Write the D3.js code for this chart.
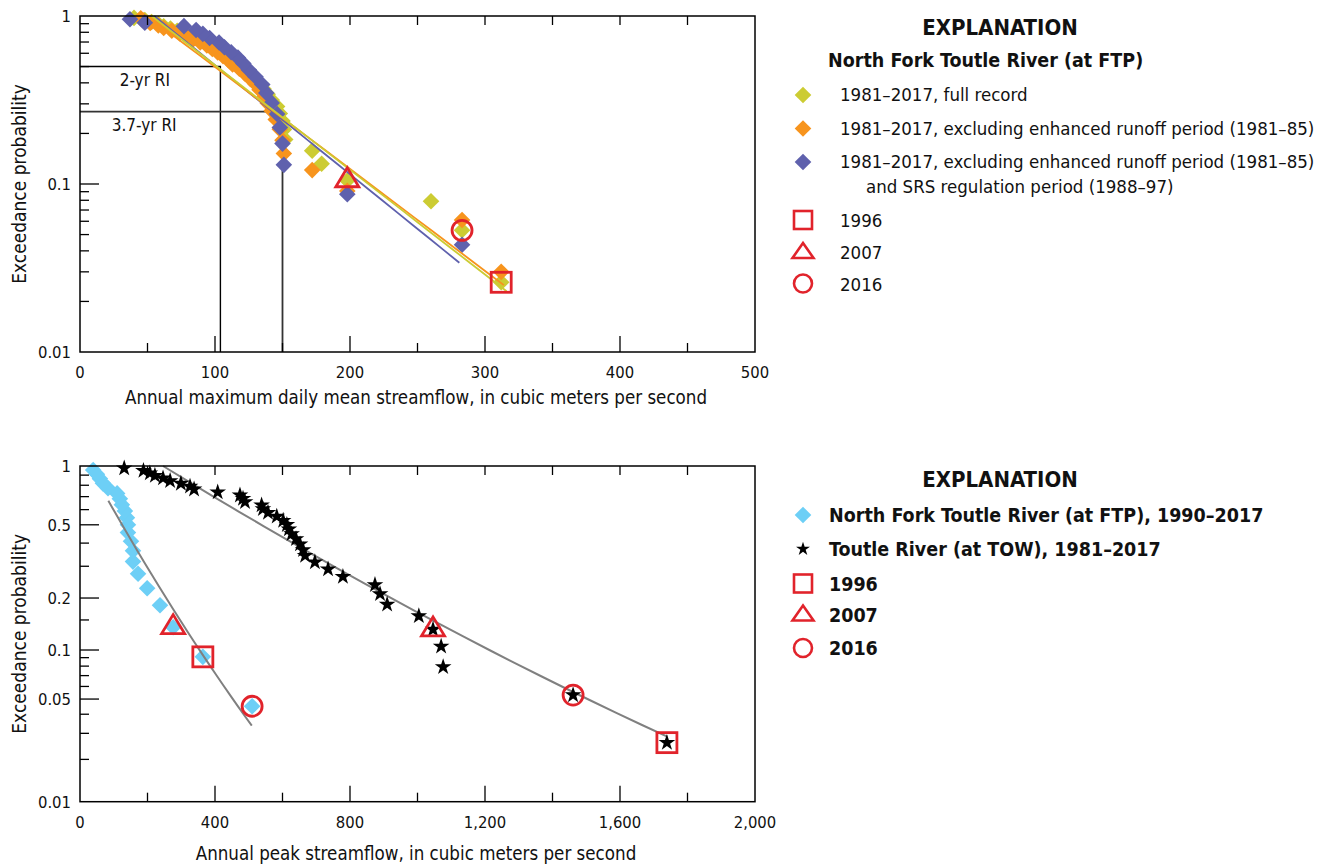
<!DOCTYPE html>
<html>
<head>
<meta charset="utf-8">
<script src="https://cdn.jsdelivr.net/npm/d3@7"></script>
<style>
body { margin: 0; background: #fff; }
svg text { font-family: "Liberation Sans Narrow", "DejaVu Sans Condensed", "Roboto", sans-serif; fill: #111; }
</style>
</head>
<body>
<svg id="chart" width="1320" height="867"></svg>
<script>
// ---- top panel: annual maximum daily mean streamflow [m3/s, exceedance probability]
var fullRecord = [[312,0.026],[283,0.053],[260,0.079],[198,0.105],[179,0.132],[172,0.158],[152,0.184],[151,0.211],[150,0.237],[148,0.263],[146,0.289],[142,0.316],[139,0.342],[136,0.368],[133,0.395],[130,0.421],[127,0.447],[123,0.474],[120,0.5],[116,0.526],[112,0.553],[109,0.579],[105,0.605],[102,0.632],[98,0.658],[94,0.684],[90,0.711],[86,0.737],[82,0.763],[77,0.789],[72,0.816],[67,0.842],[62,0.868],[58,0.895],[53,0.921],[48,0.947],[40,0.974]];
var noEnhanced = [[312,0.030],[283,0.061],[198,0.091],[172,0.121],[151,0.152],[150,0.182],[148,0.212],[145,0.242],[142,0.273],[139,0.303],[137,0.333],[133,0.364],[130,0.394],[126,0.424],[122,0.455],[118,0.485],[113,0.515],[110,0.545],[106,0.576],[102,0.606],[98,0.636],[94,0.667],[89,0.697],[84,0.727],[79,0.758],[74,0.788],[68,0.818],[62,0.848],[58,0.879],[52,0.909],[47,0.939],[45,0.970]];
var noEnhancedSrs = [[283,0.0435],[198,0.087],[151,0.130],[150,0.174],[148,0.217],[146,0.261],[142,0.304],[138,0.348],[135,0.391],[130,0.435],[125,0.478],[121,0.522],[117,0.565],[112,0.609],[107,0.652],[103,0.696],[96,0.739],[91,0.783],[86,0.826],[77,0.870],[48,0.913],[37,0.957]];
var fitFull = [[53,1.0],[316,0.023]];
var fitNoEnhanced = [[50,1.0],[314,0.025]];
var fitNoEnhancedSrs = [[55,1.0],[281,0.034]];
var riLabels = ["2-yr RI", "3.7-yr RI"];
var riFlow = [104, 150];
var riProb = [0.5, 0.27];
var topSquares = [[312,0.026]];
var topTriangles = [[198,0.105]];
var topCircles = [[283,0.053]];

// ---- bottom panel: annual peak streamflow
var ftpPeaks = [[510,0.045],[364,0.091],[276,0.136],[237,0.182],[199,0.227],[172,0.273],[157,0.318],[157,0.364],[151,0.409],[142,0.455],[142,0.5],[139,0.545],[133,0.591],[124,0.636],[118,0.682],[110,0.727],[83,0.773],[68,0.818],[59,0.864],[50,0.909],[39,0.955]];
var towPeaks = [[1739,0.026],[1461,0.053],[1076,0.079],[1070,0.105],[1046,0.132],[1004,0.158],[910,0.184],[889,0.211],[874,0.237],[779,0.263],[735,0.289],[696,0.316],[667,0.342],[661,0.368],[652,0.395],[640,0.421],[627,0.447],[619,0.474],[613,0.5],[602,0.526],[583,0.553],[557,0.579],[542,0.605],[538,0.632],[489,0.658],[483,0.684],[474,0.711],[408,0.737],[338,0.763],[326,0.789],[299,0.816],[267,0.842],[246,0.868],[222,0.895],[207,0.921],[188,0.947],[131,0.974]];
var ftpFit = [[84,0.666],[509,0.0337]];
var towFit = [[246,1.0],[1740,0.0285]];
var botSquares = [[364,0.091],[1739,0.026]];
var botTriangles = [[276,0.136],[1046,0.132]];
var botCircles = [[510,0.045],[1461,0.053]];

// ---- ticks
var topXTicks = [0, 100, 200, 300, 400, 500];
var botXTicks = [0, 400, 800, 1200, 1600, 2000];
var topYLabels = [1, 0.1, 0.01];
var botYLabels = [1, 0.5, 0.2, 0.1, 0.05, 0.01];
var topYMinor = [0.9,0.8,0.7,0.6,0.5,0.4,0.3,0.2,0.09,0.08,0.07,0.06,0.05,0.04,0.03,0.02];
var botYMinor = [0.9,0.8,0.7,0.6,0.4,0.3,0.15,0.09,0.08,0.07,0.06,0.04,0.03,0.02];

var C = {
    full: "#cccc33",
    noEnh: "#f7941d",
    noSrs: "#5f61ad",
    ftp: "#6dcff6",
    red: "#e1232b",
    fit: "#808080"
};

var svg = d3.select("#chart");

var L = 80, R = 755;
var T1 = 16, B1 = 352;
var T2 = 466, B2 = 801.7;

var x1 = d3.scaleLinear().domain([0, 500]).range([L, R]);
var y1 = d3.scaleLog().domain([0.01, 1]).range([B1, T1]);

var x2 = d3.scaleLinear().domain([0, 2000]).range([L, R]);
// the lower probability axis of the figure is not evenly spaced per decade
var dec2 = d3.scaleLog().domain([1, 0.01]).range([0, 2]);
var y2 = function(p) {
    var d = dec2(p);
    return T2 + (B2 - T2) * (0.5964 * d - 0.04826 * d * d);
};

function diamond(r) {
    return "M0," + (-r) + "L" + r + ",0L0," + r + "L" + (-r) + ",0Z";
}
function triangle(w, h) {
    return "M0," + (-h * 2 / 3) + "L" + (w / 2) + "," + (h / 3) + "L" + (-w / 2) + "," + (h / 3) + "Z";
}
var star = d3.symbol(d3.symbolStar, 86)();
var starSmall = d3.symbol(d3.symbolStar, 60)();

function axesFrame(g, x, y, top, bottom, xTicks, xStep, yLabels, yMinor, yMajor, fmt) {
    var left = x.range()[0], right = x.range()[1];
    var ax = g.append("g").attr("stroke", "#000").attr("stroke-width", 1.3).attr("fill", "none");

    // bottom & top x ticks
    var xt = d3.range(xStep, x.domain()[1], xStep);
    ax.selectAll(".xb").data(xt).enter().append("line")
        .attr("x1", function(d) { return x(d); }).attr("x2", function(d) { return x(d); })
        .attr("y1", bottom)
        .attr("y2", function(d) { return xTicks.indexOf(d) >= 0 && xStep * 2 === xTicks[1] ? bottom - 16 : bottom - 9; });
    ax.selectAll(".xt").data(xt).enter().append("line")
        .attr("x1", function(d) { return x(d); }).attr("x2", function(d) { return x(d); })
        .attr("y1", top).attr("y2", top + 9);

    // left y ticks
    ax.selectAll(".ym").data(yMinor).enter().append("line")
        .attr("x1", left).attr("x2", left + 9)
        .attr("y1", function(d) { return y(d); }).attr("y2", function(d) { return y(d); });
    ax.selectAll(".yM").data(yMajor).enter().append("line")
        .attr("x1", left).attr("x2", left + 19)
        .attr("y1", function(d) { return y(d); }).attr("y2", function(d) { return y(d); });

    ax.append("rect")
        .attr("x", left).attr("y", top)
        .attr("width", right - left).attr("height", bottom - top)
        .attr("stroke-width", 1.5);

    g.selectAll(".xl").data(xTicks).enter().append("text")
        .attr("x", function(d) { return x(d); })
        .attr("y", bottom + 26)
        .attr("text-anchor", "middle")
        .attr("font-size", 16.5)
        .text(function(d) { return fmt(d); });

    g.selectAll(".yl").data(yLabels).enter().append("text")
        .attr("x", left - 9)
        .attr("y", function(d) { return y(d) + 6; })
        .attr("text-anchor", "end")
        .attr("font-size", 16.5)
        .text(function(d) { return d; });
}

function diamonds(g, data, x, y, color) {
    g.append("g").selectAll("path").data(data).enter().append("path")
        .attr("d", diamond(8.3))
        .attr("transform", function(d) { return "translate(" + x(d[0]) + "," + y(d[1]) + ")"; })
        .attr("fill", color);
}

function yearMarks(g, x, y, sq, tri, circ) {
    var m = g.append("g").attr("fill", "none").attr("stroke", C.red).attr("stroke-width", 2.8);
    m.selectAll(".sq").data(sq).enter().append("rect")
        .attr("x", function(d) { return x(d[0]) - 10; })
        .attr("y", function(d) { return y(d[1]) - 10; })
        .attr("width", 20).attr("height", 20);
    m.selectAll(".tr").data(tri).enter().append("path")
        .attr("d", triangle(23, 19))
        .attr("transform", function(d) { return "translate(" + x(d[0]) + "," + y(d[1]) + ")"; });
    m.selectAll(".ci").data(circ).enter().append("circle")
        .attr("cx", function(d) { return x(d[0]); })
        .attr("cy", function(d) { return y(d[1]); })
        .attr("r", 10);
}

// sample a log-linear fit line between its two ends so it follows the scale
function fitPath(fit, x, y) {
    var a = fit[0], b = fit[1];
    var la = Math.log10(a[1]), lb = Math.log10(b[1]);
    var pts = d3.range(0, 1.0001, 0.05).map(function(t) {
        return [a[0] + (b[0] - a[0]) * t, Math.pow(10, la + (lb - la) * t)];
    });
    return d3.line().x(function(d) { return x(d[0]); }).y(function(d) { return y(d[1]); })(pts);
}

// =============== top panel
var g1 = svg.append("g");

var ri = g1.append("g").attr("stroke", "#000").attr("stroke-width", 1.4).attr("fill", "none");
riFlow.forEach(function(q, i) {
    ri.append("path")
        .attr("d", "M" + L + "," + y1(riProb[i]) + "H" + x1(q) + "V" + B1)
        .attr("stroke", i === 1 ? "#333" : "#000")
        .attr("stroke-width", i === 1 ? 1.8 : 1.4);
});
g1.selectAll(".ril").data(riLabels).enter().append("text")
    .attr("x", function(d, i) { return x1(i === 0 ? 48 : 47.5); })
    .attr("y", function(d, i) { return y1(riProb[i]) + 19; })
    .attr("text-anchor", "middle")
    .attr("font-size", 17)
    .text(function(d) { return d; });

diamonds(g1, fullRecord, x1, y1, C.full);
diamonds(g1, noEnhanced, x1, y1, C.noEnh);
diamonds(g1, noEnhancedSrs, x1, y1, C.noSrs);

[[fitNoEnhancedSrs, C.noSrs], [fitNoEnhanced, C.noEnh], [fitFull, C.full]].forEach(function(f) {
    g1.append("path")
        .attr("d", fitPath(f[0], x1, y1))
        .attr("fill", "none").attr("stroke", f[1]).attr("stroke-width", 1.8);
});

yearMarks(g1, x1, y1, topSquares, topTriangles, topCircles);

axesFrame(g1, x1, y1, T1, B1, topXTicks, 50, topYLabels, topYMinor, [0.1], function(d) { return d; });

g1.append("text")
    .attr("x", 416).attr("y", 404)
    .attr("text-anchor", "middle").attr("font-size", 18.6)
    .text("Annual maximum daily mean streamflow, in cubic meters per second");
g1.append("text")
    .attr("transform", "translate(26," + ((T1 + B1) / 2) + ") rotate(-90)")
    .attr("text-anchor", "middle").attr("font-size", 19)
    .text("Exceedance probability");

// =============== bottom panel
var g2 = svg.append("g");

diamonds(g2, ftpPeaks, x2, y2, C.ftp);

[ftpFit, towFit].forEach(function(f) {
    g2.append("path")
        .attr("d", fitPath(f, x2, y2))
        .attr("fill", "none").attr("stroke", C.fit).attr("stroke-width", 2);
});

g2.append("g").selectAll("path").data(towPeaks).enter().append("path")
    .attr("d", star)
    .attr("transform", function(d) { return "translate(" + x2(d[0]) + "," + y2(d[1]) + ")"; })
    .attr("fill", "#000");

yearMarks(g2, x2, y2, botSquares, botTriangles, botCircles);

axesFrame(g2, x2, y2, T2, B2, botXTicks, 200, botYLabels, botYMinor, [0.5, 0.2, 0.1, 0.05], d3.format(","));

g2.append("text")
    .attr("x", 416).attr("y", 860)
    .attr("text-anchor", "middle").attr("font-size", 18.6)
    .text("Annual peak streamflow, in cubic meters per second");
g2.append("text")
    .attr("transform", "translate(26," + ((T2 + B2) / 2) + ") rotate(-90)")
    .attr("text-anchor", "middle").attr("font-size", 19)
    .text("Exceedance probability");

// =============== explanations
var lx = 803, tx = 840;
var k1 = svg.append("g");
k1.append("text").attr("x", 1000).attr("y", 35).attr("text-anchor", "middle")
    .attr("font-size", 22).attr("font-weight", "bold").text("EXPLANATION");
k1.append("text").attr("x", 828).attr("y", 66.5)
    .attr("font-size", 19.5).attr("font-weight", "bold").text("North Fork Toutle River (at FTP)");

var topKeys = [
    ["1981\u20132017, full record", C.full, 95],
    ["1981\u20132017, excluding enhanced runoff period (1981\u201385)", C.noEnh, 128.5],
    ["1981\u20132017, excluding enhanced runoff period (1981\u201385)", C.noSrs, 162]
];
topKeys.forEach(function(k) {
    k1.append("path").attr("d", diamond(8.3)).attr("transform", "translate(" + lx + "," + k[2] + ")").attr("fill", k[1]);
    k1.append("text").attr("x", tx).attr("y", k[2] + 6).attr("font-size", 18.5).text(k[0]);
});
k1.append("text").attr("x", 866).attr("y", 192.5).attr("font-size", 18.5).text("and SRS regulation period (1988\u201397)");

function keyYears(g, ys, labels, tx, bold) {
    var m = g.append("g").attr("fill", "none").attr("stroke", C.red).attr("stroke-width", 2.6);
    m.append("rect").attr("x", lx - 9).attr("y", ys[0] - 9).attr("width", 18).attr("height", 18);
    m.append("path").attr("d", triangle(21, 15)).attr("transform", "translate(" + lx + "," + (ys[1] + 1) + ")");
    m.append("circle").attr("cx", lx).attr("cy", ys[2]).attr("r", 9);
    labels.forEach(function(t, i) {
        g.append("text").attr("x", tx).attr("y", ys[i] + 7).attr("font-size", bold ? 19.5 : 18.5)
            .attr("font-weight", bold ? "bold" : null).text(t);
    });
}
keyYears(k1, [220, 252, 283.5], ["1996", "2007", "2016"], tx, false);

var k2 = svg.append("g");
k2.append("text").attr("x", 1000).attr("y", 486.5).attr("text-anchor", "middle")
    .attr("font-size", 22).attr("font-weight", "bold").text("EXPLANATION");
k2.append("path").attr("d", diamond(8.3)).attr("transform", "translate(" + lx + ",515)").attr("fill", C.ftp);
k2.append("text").attr("x", 829).attr("y", 521.5).attr("font-size", 19.5).attr("font-weight", "bold")
    .text("North Fork Toutle River (at FTP), 1990\u20132017");
k2.append("path").attr("d", starSmall).attr("transform", "translate(" + lx + ",549)").attr("fill", "#000");
k2.append("text").attr("x", 829).attr("y", 556).attr("font-size", 19.5).attr("font-weight", "bold")
    .text("Toutle River (at TOW), 1981\u20132017");
keyYears(k2, [583.5, 614.5, 648], ["1996", "2007", "2016"], 829, true);
</script>
</body>
</html>
